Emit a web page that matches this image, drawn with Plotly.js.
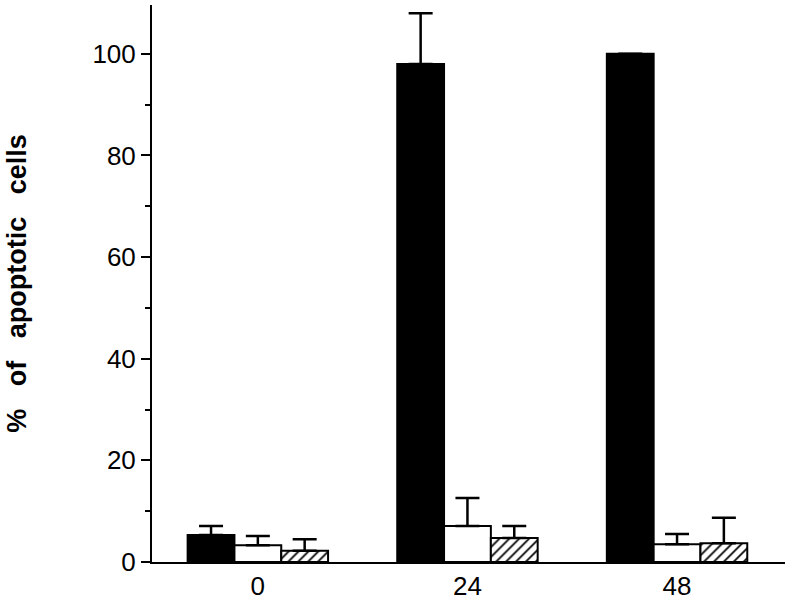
<!DOCTYPE html>
<html>
<head>
<meta charset="utf-8">
<script src="https://cdn.plot.ly/plotly-3.0.1.min.js"></script>
<style>
  html, body { margin: 0; padding: 0; background: #fff; }
  #chart { width: 787px; height: 605px; }
</style>
</head>
<body>
<div id="chart"></div>
<script>
// time points (h) and % apoptotic cells, three treatment groups
var hours = ['0', '24', '48'];
var pos = [0, 1, 2];

var blackVals = [5.3, 98.0, 100.0];
var blackErr  = [1.8, 10.0, 0];

var whiteVals = [3.3, 7.1, 3.5];
var whiteErr  = [1.8, 5.5, 2.0];

var hatchVals = [2.2, 4.7, 3.7];
var hatchErr  = [2.3, 2.4, 5.0];

function errUp(arr) {
    return {
        type: 'data',
        symmetric: false,
        array: arr,
        arrayminus: arr.map(function () { return 0; }),
        color: '#000',
        thickness: 2.5,
        width: 12
    };
}

var black = {
    x: pos,
    y: blackVals,
    type: 'bar',
    marker: { color: '#000', line: { color: '#000', width: 2 } },
    error_y: errUp(blackErr)
};

var white = {
    x: pos,
    y: whiteVals,
    type: 'bar',
    marker: { color: '#fff', line: { color: '#000', width: 2 } },
    error_y: errUp(whiteErr)
};

var hatched = {
    x: pos,
    y: hatchVals,
    type: 'bar',
    marker: {
        color: '#fff',
        line: { color: '#000', width: 2 },
        pattern: { shape: '/', fgcolor: '#000', bgcolor: '#fff', size: 7, solidity: 0.25 }
    },
    error_y: errUp(hatchErr)
};

var data = [black, white, hatched];

var layout = {
    width: 787,
    height: 605,
    showlegend: false,
    barmode: 'group',
    bargap: 0.33,
    bargroupgap: 0,
    paper_bgcolor: '#fff',
    plot_bgcolor: '#fff',
    margin: { l: 152, r: 2, t: 5, b: 43 },
    font: { family: 'Liberation Sans, Arial, sans-serif', color: '#000' },
    xaxis: {
        range: [-0.505, 2.515],
        tickvals: pos,
        ticktext: hours,
        ticks: '',
        showgrid: false,
        zeroline: false,
        showline: true,
        linecolor: '#000',
        linewidth: 2,
        tickfont: { size: 26 }
    },
    yaxis: {
        range: [0, 109.6],
        tickvals: [0, 20, 40, 60, 80, 100],
        ticks: 'outside',
        ticklen: 9,
        tickwidth: 2,
        tickcolor: '#000',
        minor: { tickvals: [10, 30, 50, 70, 90], ticks: 'outside', ticklen: 5, tickwidth: 2, tickcolor: '#000' },
        showgrid: false,
        zeroline: false,
        showline: true,
        linecolor: '#000',
        linewidth: 2,
        tickfont: { size: 26 },
        title: {
            text: '<b>%   of   apoptotic   cells</b>',
            font: { size: 27 },
            standoff: 58
        }
    }
};

Plotly.newPlot('chart', data, layout, { displayModeBar: false, staticPlot: true });
</script>
</body>
</html>
